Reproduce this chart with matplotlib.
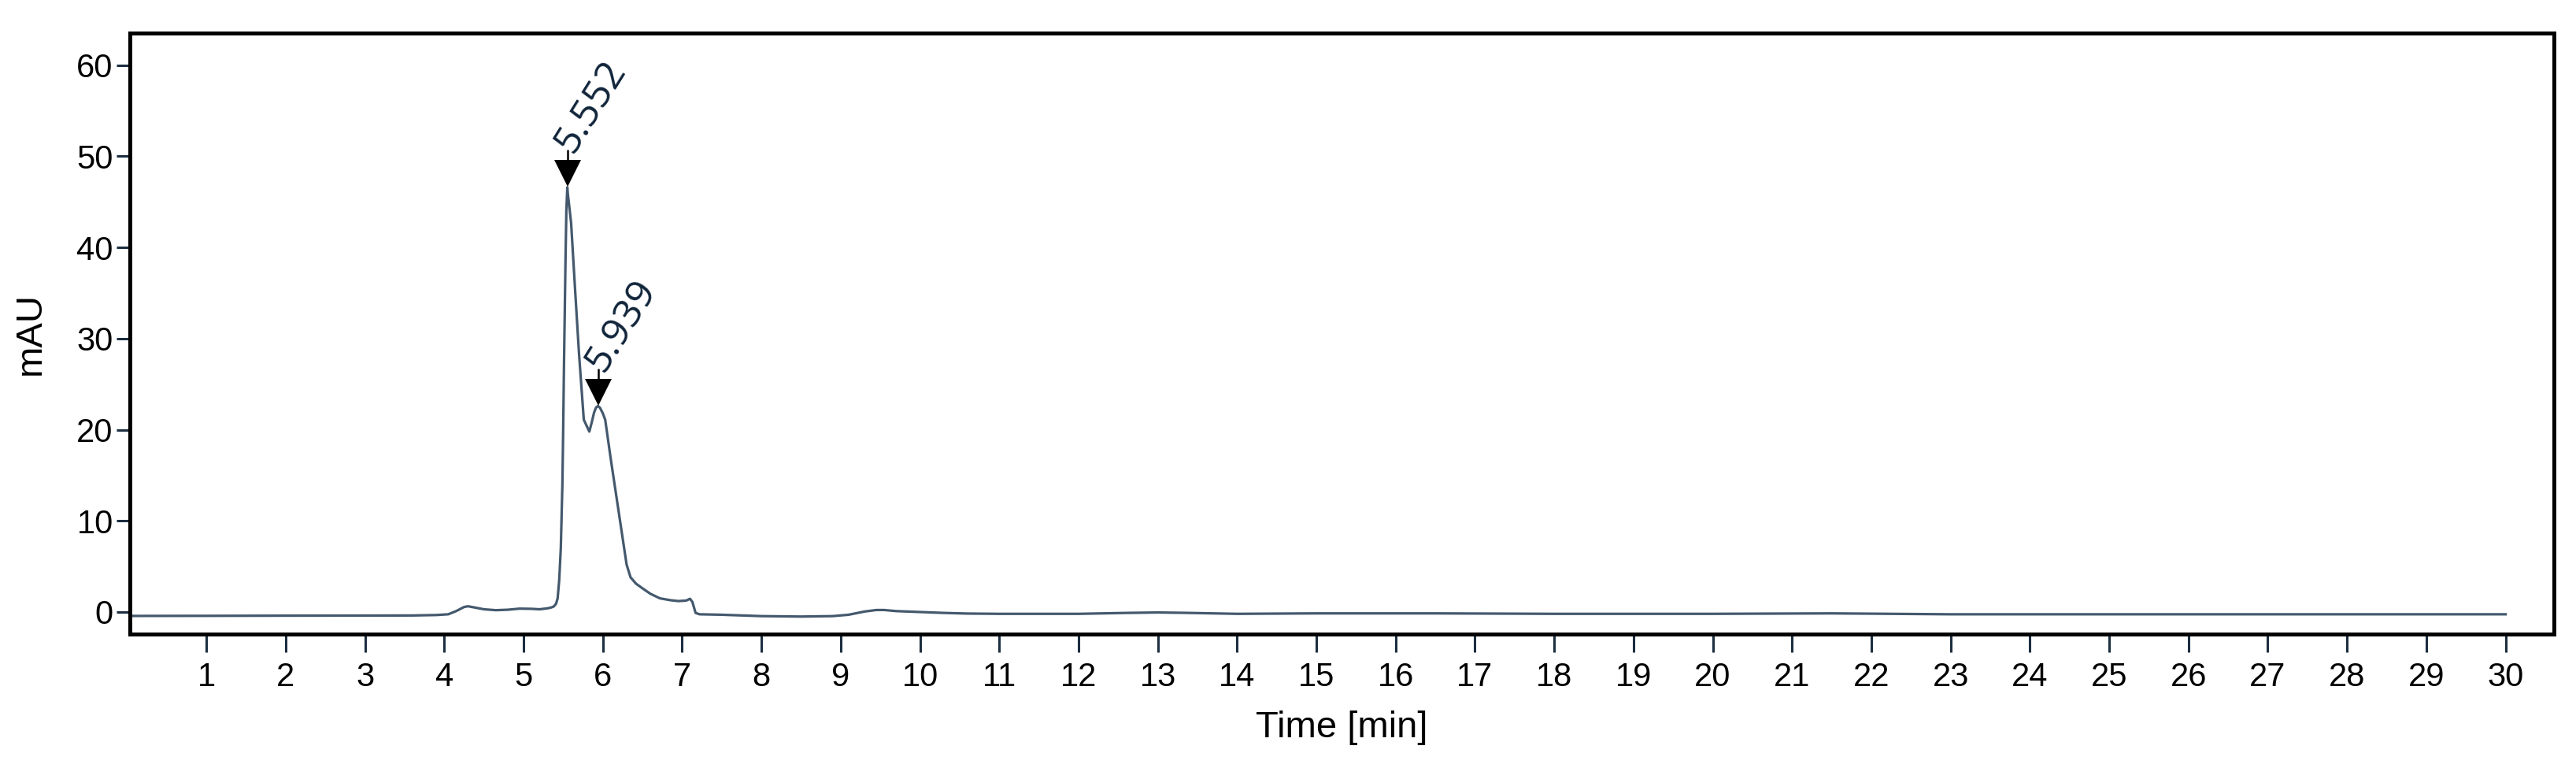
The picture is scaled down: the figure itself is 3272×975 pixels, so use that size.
import matplotlib
matplotlib.use("Agg")
import matplotlib.pyplot as plt
import matplotlib.transforms as mtransforms

# ---- data ----
time_min = [0.0, 1.0, 2.0, 3.0, 3.6, 3.9, 4.05, 4.15, 4.25, 4.30, 4.38, 4.50, 4.65, 4.80,
            4.95, 5.10, 5.20, 5.30, 5.35, 5.38, 5.41, 5.43, 5.45, 5.47, 5.49, 5.50, 5.51,
            5.52, 5.53, 5.54, 5.552, 5.56, 5.60, 5.65, 5.70, 5.76, 5.83, 5.86, 5.89, 5.915,
            5.939, 5.965, 6.00, 6.03, 6.10, 6.20, 6.30, 6.35, 6.42, 6.50, 6.60, 6.72, 6.85,
            6.95, 7.05, 7.10, 7.13, 7.17, 7.22, 7.50, 8.00, 8.50, 8.90, 9.10, 9.30, 9.45,
            9.55, 9.70, 10.0, 10.3, 10.6, 11.0, 12.0, 12.6, 13.0, 13.4, 14.0, 15.0, 16.5,
            18.0, 20.0, 21.5, 23.0, 26.0, 30.0]
signal_mau = [-0.43, -0.42, -0.40, -0.39, -0.38, -0.33, -0.25, 0.10, 0.55, 0.63, 0.50, 0.30,
              0.20, 0.25, 0.37, 0.35, 0.30, 0.40, 0.50, 0.60, 0.90, 1.5, 3.5, 7.0, 14.0, 20.0,
              27.0, 33.0, 39.0, 44.0, 46.6, 45.8, 42.7, 35.4, 28.3, 21.1, 19.8, 20.8, 21.9,
              22.45, 22.6, 22.4, 21.8, 21.1, 16.8, 11.0, 5.2, 3.8, 3.1, 2.6, 2.0, 1.5, 1.3,
              1.2, 1.25, 1.45, 1.1, -0.10, -0.25, -0.30, -0.45, -0.50, -0.45, -0.30, 0.05,
              0.22, 0.22, 0.10, 0.0, -0.10, -0.17, -0.20, -0.20, -0.10, -0.05, -0.10, -0.20,
              -0.15, -0.15, -0.20, -0.20, -0.15, -0.25, -0.25, -0.25]

peak_times = [5.552, 5.939]
peak_heights = [46.6, 22.6]
peak_labels = ["5.552", "5.939"]

x_ticks = list(range(1, 31))
y_ticks = [0, 10, 20, 30, 40, 50, 60]

# ---- figure ----
fig = plt.figure(figsize=(32.73, 9.75), dpi=100, facecolor="white")
ax = fig.add_axes([0.05026, 0.17487, 0.99114 - 0.05026, 0.95723 - 0.17487])

ax.plot(time_min, signal_mau, color="#44596d", linewidth=2.3, solid_joinstyle="round")

ax.set_xlim(0.03, 30.61)
ax.set_ylim(-2.38, 63.55)

ax.set_xticks(x_ticks)
ax.set_xticklabels([str(v) for v in x_ticks])
ax.set_yticks(y_ticks)
ax.set_yticklabels([str(v) for v in y_ticks])

fam = ["Liberation Sans", "DejaVu Sans"]
for lab in ax.get_xticklabels() + ax.get_yticklabels():
    lab.set_fontfamily(fam)
    lab.set_fontsize(30)
    lab.set_color("black")

ax.tick_params(axis="x", direction="out", length=16.5, width=2.2, color="#1c2e40", pad=9)
ax.tick_params(axis="y", direction="out", length=12, width=2.2, color="#1c2e40", pad=3)

for sp in ax.spines.values():
    sp.set_linewidth(3.6)
    sp.set_color("black")

ax.set_xlabel("Time [min]", fontsize=34, family=fam, labelpad=16)
ax.set_ylabel("mAU", fontsize=34, family=fam, labelpad=26)

# peak markers: downward triangle with its tip on the apex, small stem, rotated label
msize = 25
for pt, ph, lab in zip(peak_times, peak_heights, peak_labels):
    tri_trans = mtransforms.offset_copy(ax.transData, fig=fig, x=0, y=msize / 2, units="points")
    ax.plot([pt], [ph], marker="v", markersize=msize, color="black",
            markeredgewidth=0, transform=tri_trans, zorder=5, clip_on=False)
    stem_trans = mtransforms.offset_copy(ax.transData, fig=fig, x=0, y=msize + 4.5, units="points")
    ax.plot([pt], [ph], marker="|", markersize=10, color="black", markeredgewidth=1.8,
            transform=stem_trans, zorder=5, clip_on=False)
    ax.annotate(lab, xy=(pt, ph), xycoords="data",
                xytext=(5, msize + 5), textcoords="offset points",
                rotation=58, rotation_mode="anchor", ha="left", va="baseline",
                fontsize=36, color="#10243a", family=["Open Sans", "DejaVu Sans"],
                annotation_clip=False)

fig.savefig("out.png", dpi=100, facecolor="white")
